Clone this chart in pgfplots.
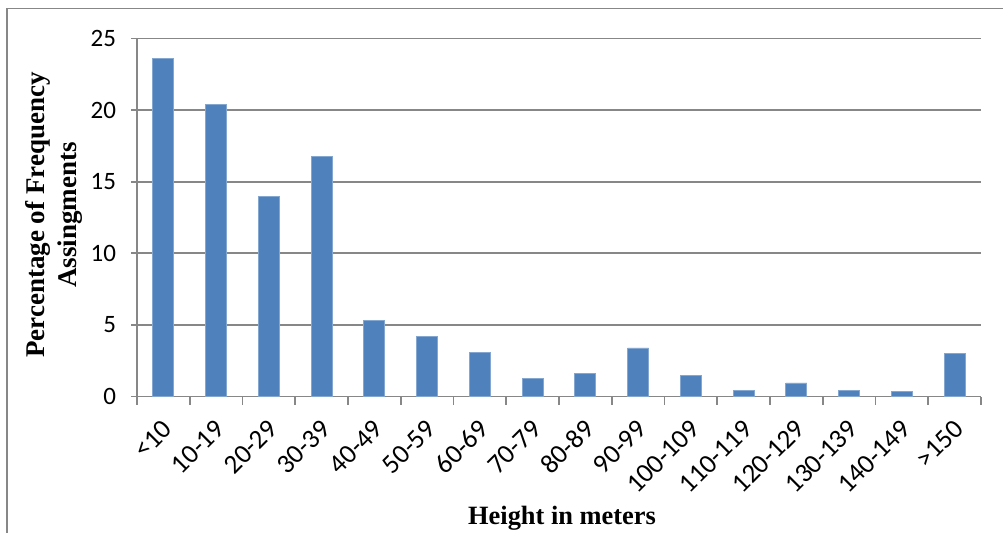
\documentclass[border=0pt]{standalone}
\usepackage{pgfplots}
\pgfplotsset{compat=1.18}
\usepackage{fontspec}
\setmainfont{Liberation Serif}
\newfontfamily\calib{Carlito}
\definecolor{barblue}{HTML}{4F81BD}
\definecolor{gridgray}{HTML}{878787}
\begin{document}
\begin{tikzpicture}
\useasboundingbox (0,0) rectangle (501.5pt,266.5pt);
\draw[gridgray, line width=0.8pt] (3.5pt,-5pt) -- (3.5pt,262.2pt) -- (510pt,262.2pt);
\begin{axis}[
  at={(68.5pt,68.2pt)}, anchor=south west,
  width=422pt, height=179pt, scale only axis,
  ymin=0, ymax=25, ytick={0,5,...,25},
  xmin=-0.5, xmax=15.5,
  xtick={0,...,15},
  xticklabels={<10,10-19,20-29,30-39,40-49,50-59,60-69,70-79,80-89,90-99,100-109,110-119,120-129,130-139,140-149,>150},
  minor xtick={-0.5,0.5,...,15.5},
  major x tick style={draw=none},
  axis x line*=bottom, axis y line*=left,
  axis line style={gridgray, line width=0.9pt},
  ymajorgrids, major grid style={gridgray, line width=0.9pt},
  tick style={gridgray, line width=0.9pt},
  tick align=outside,
  major tick length=3pt, minor tick length=4pt,
  /pgf/number format/assume math mode=true,
  yticklabel style={font=\calib\fontsize{12.5}{15}\selectfont, xshift=-4pt},
  xticklabel style={font=\calib\fontsize{13.5}{15}\selectfont, xshift=4.5pt, yshift=-8.5pt, rotate=45, anchor=east},
  ybar, bar width=10.5pt,
  clip=false,
]
\addplot[fill=barblue, draw=barblue!70!white, line width=0.4pt] coordinates {
(0,23.6) (1,20.4) (2,14.0) (3,16.8) (4,5.3) (5,4.2) (6,3.1) (7,1.25)
(8,1.6) (9,3.4) (10,1.5) (11,0.4) (12,0.95) (13,0.45) (14,0.35) (15,3.0)};
\end{axis}
\node[font=\bfseries\fontsize{13.2}{15}\selectfont] at (281pt,7.5pt) {Height in meters};
\node[font=\bfseries\fontsize{13.5}{16}\selectfont, rotate=90, align=center] at (27pt,159pt) {Percentage of Frequency\\Assingments};
\end{tikzpicture}
\end{document}
